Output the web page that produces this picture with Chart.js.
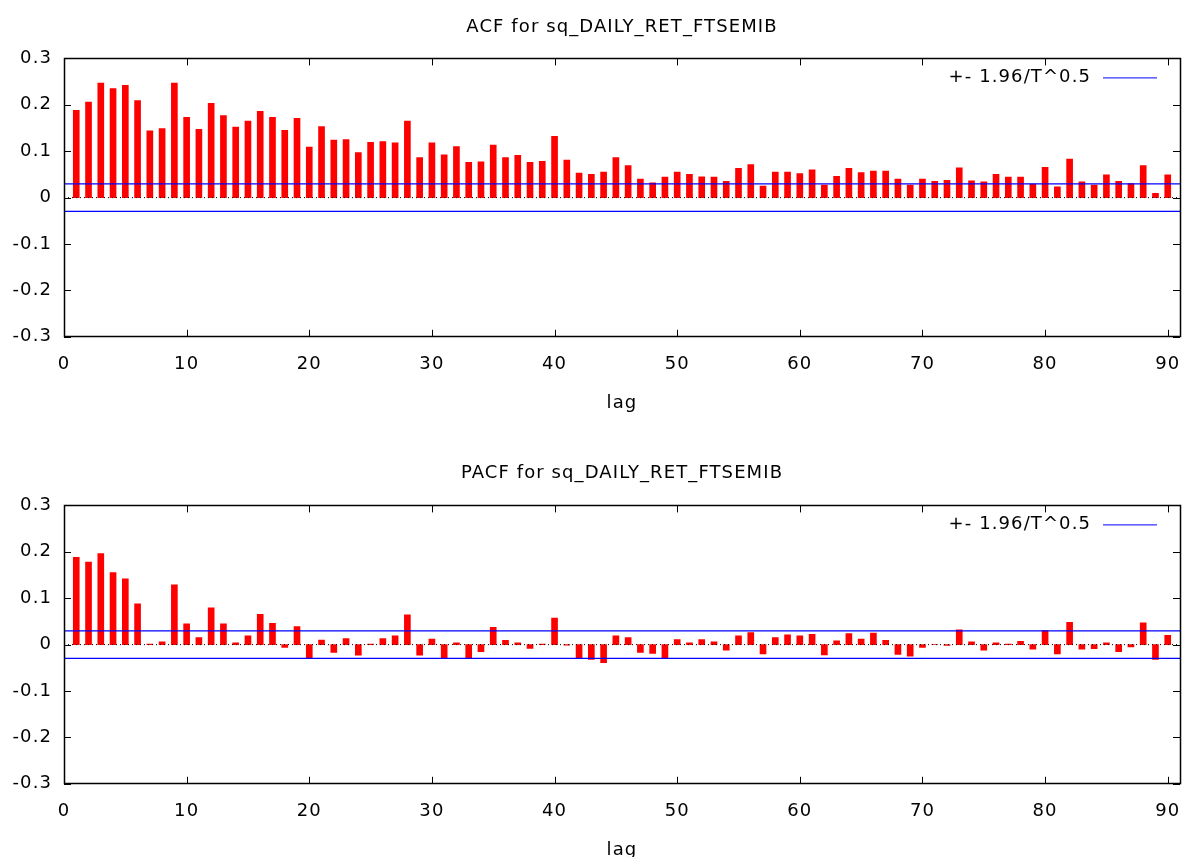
<!DOCTYPE html>
<html lang="en">
<head>
  <meta charset="UTF-8" />
  <title>ACF / PACF — sq_DAILY_RET_FTSEMIB</title>
  <script src="https://cdn.jsdelivr.net/npm/chart.js"></script>
  <style>
    html, body { margin: 0; padding: 0; background: #fff; overflow: hidden; }
    .panel { position: absolute; left: 0; width: 1194px; height: 414px; }
  </style>
</head>
<body>

  <div class="panel" style="top:0"><canvas id="acfChart"></canvas></div>
  <div class="panel" style="top:447px"><canvas id="pacfChart"></canvas></div>

  <script>
    // lags 1..90
    const lags = [
      1, 2, 3, 4, 5, 6, 7, 8, 9, 10, 11, 12, 13, 14, 15, 16, 17, 18, 19, 20,
      21, 22, 23, 24, 25, 26, 27, 28, 29, 30, 31, 32, 33, 34, 35, 36, 37, 38, 39, 40,
      41, 42, 43, 44, 45, 46, 47, 48, 49, 50, 51, 52, 53, 54, 55, 56, 57, 58, 59, 60,
      61, 62, 63, 64, 65, 66, 67, 68, 69, 70, 71, 72, 73, 74, 75, 76, 77, 78, 79, 80,
      81, 82, 83, 84, 85, 86, 87, 88, 89, 90
    ];

    const acfValues = [
      0.188, 0.206, 0.247, 0.235, 0.242, 0.209, 0.144, 0.149, 0.247, 0.173,
      0.147, 0.203, 0.177, 0.152, 0.165, 0.186, 0.173, 0.145, 0.171, 0.109,
      0.153, 0.124, 0.125, 0.097, 0.119, 0.121, 0.118, 0.165, 0.086, 0.118,
      0.092, 0.110, 0.076, 0.077, 0.113, 0.086, 0.091, 0.076, 0.078, 0.132,
      0.081, 0.053, 0.050, 0.055, 0.086, 0.069, 0.040, 0.032, 0.044, 0.055,
      0.050, 0.045, 0.044, 0.035, 0.063, 0.071, 0.025, 0.055, 0.055, 0.052,
      0.060, 0.027, 0.046, 0.063, 0.054, 0.057, 0.057, 0.040, 0.027, 0.040,
      0.035, 0.037, 0.064, 0.036, 0.034, 0.050, 0.044, 0.044, 0.029, 0.065,
      0.023, 0.083, 0.034, 0.027, 0.049, 0.035, 0.030, 0.069, 0.009, 0.049
    ];

    const pacfValues = [
      0.188, 0.178, 0.196, 0.155, 0.142, 0.088, 0.001, 0.006, 0.129, 0.045,
      0.015, 0.079, 0.045, 0.004, 0.019, 0.065, 0.046, -0.006, 0.039, -0.029,
      0.010, -0.017, 0.013, -0.023, 0.001, 0.013, 0.019, 0.064, -0.023, 0.012,
      -0.029, 0.004, -0.029, -0.015, 0.037, 0.009, 0.004, -0.008, 0.001, 0.057,
      -0.001, -0.029, -0.032, -0.039, 0.019, 0.015, -0.017, -0.019, -0.029, 0.011,
      0.004, 0.011, 0.006, -0.012, 0.019, 0.026, -0.020, 0.015, 0.021, 0.019,
      0.022, -0.022, 0.008, 0.024, 0.012, 0.025, 0.009, -0.021, -0.025, -0.006,
      0.000, -0.002, 0.032, 0.006, -0.012, 0.004, 0.001, 0.007, -0.010, 0.030,
      -0.020, 0.048, -0.010, -0.009, 0.004, -0.015, -0.005, 0.047, -0.032, 0.020
    ];

    const confBand = 0.0295;           // +- 1.96/T^0.5
    const xTicks = [0, 10, 20, 30, 40, 50, 60, 70, 80, 90];
    const yTicks = ['-0.3', '-0.2', '-0.1', '0', '0.1', '0.2', '0.3'];
    const xRange = [0, 91];
    const legendText = '+- 1.96/T^0.5';

    const FONT = 'DejaVu Sans, Verdana, sans-serif';

    // gnuplot's font is wider than DejaVu, so open it up a little (draw only)
    const spacingPlugin = {
      id: 'spacing',
      beforeDraw(chart) { chart.ctx.letterSpacing = '1.1px'; }
    };

    // title over the plot, frame, inward tick marks and the key
    const framePlugin = {
      id: 'frame',
      afterDraw(chart, args, opts) {
        const { ctx, chartArea: a, scales } = chart;
        ctx.save();
        ctx.fillStyle = '#000';
        ctx.font = '18px ' + FONT;
        ctx.textAlign = 'center';
        ctx.textBaseline = 'middle';
        ctx.fillText(opts.title, (a.left + a.right) / 2, opts.titleY);

        ctx.strokeStyle = '#000';
        ctx.lineWidth = 1;
        ctx.beginPath();
        xTicks.forEach(v => {
          const px = Math.round(scales.x.getPixelForValue(v)) + 0.5;
          ctx.moveTo(px, a.bottom); ctx.lineTo(px, a.bottom - 7);
          ctx.moveTo(px, a.top); ctx.lineTo(px, a.top + 7);
        });
        yTicks.forEach(t => {
          const py = Math.round(scales.y.getPixelForValue(parseFloat(t))) + 0.5;
          ctx.moveTo(a.left, py); ctx.lineTo(a.left + 7, py);
          ctx.moveTo(a.right, py); ctx.lineTo(a.right - 7, py);
        });
        ctx.stroke();
        ctx.lineWidth = 1.5;
        ctx.strokeRect(Math.round(a.left) + 0.5, Math.round(a.top) + 0.5,
                       Math.round(a.right - a.left), Math.round(a.bottom - a.top));
        // key
        ctx.textAlign = 'right';
        ctx.fillText(legendText, a.right - 89, a.top + 19);
        ctx.strokeStyle = '#0000ff';
        ctx.lineWidth = 1;
        ctx.beginPath();
        ctx.moveTo(a.right - 77, a.top + 19.5);
        ctx.lineTo(a.right - 23, a.top + 19.5);
        ctx.stroke();
        ctx.restore();
      }
    };

    function makeChart(id, title, titleY, values) {
      new Chart(document.getElementById(id), {
        data: {
          datasets: [
            {
              type: 'bar',
              data: lags.map((l, i) => ({ x: l, y: values[i] })),
              backgroundColor: '#ff0000',
              borderWidth: 0,
              barThickness: 6,
              order: 2
            },
            {
              type: 'line',
              data: [{ x: xRange[0], y: 0 }, { x: xRange[1], y: 0 }],
              borderColor: '#000',
              borderWidth: 1,
              borderDash: [1, 3],
              pointRadius: 0,
              order: 1
            },
            {
              type: 'line',
              data: [{ x: xRange[0], y: confBand }, { x: xRange[1], y: confBand }],
              borderColor: '#0000ff',
              borderWidth: 1.3,
              pointRadius: 0,
              order: 0
            },
            {
              type: 'line',
              data: [{ x: xRange[0], y: -confBand }, { x: xRange[1], y: -confBand }],
              borderColor: '#0000ff',
              borderWidth: 1.3,
              pointRadius: 0,
              order: 0
            }
          ]
        },
        options: {
          responsive: false,
          animation: false,
          devicePixelRatio: 1,
          layout: { padding: { left: 0, right: 14, top: 58.4, bottom: 0 } },
          plugins: {
            legend: { display: false },
            tooltip: { enabled: false },
            title: { display: false },
            frame: { title: title, titleY: titleY }
          },
          scales: {
            x: {
              type: 'linear',
              min: xRange[0],
              max: xRange[1],
              offset: false,
              afterBuildTicks: s => { s.ticks = xTicks.map(v => ({ value: v })); },
              afterFit: s => { s.paddingLeft = 0; s.paddingRight = 0; },
              ticks: { color: '#000', font: { family: FONT, size: 18 }, padding: 17, maxRotation: 0 },
              grid: { display: false, drawTicks: false },
              border: { display: false },
              title: {
                display: true,
                text: 'lag',
                color: '#000',
                font: { family: FONT, size: 18 },
                padding: { top: 0, bottom: 0 }
              }
            },
            y: {
              min: -0.3,
              max: 0.3,
              afterBuildTicks: s => { s.ticks = yTicks.map(t => ({ value: parseFloat(t) })); },
              afterFit: s => { s.width = 64; },
              ticks: {
                color: '#000',
                font: { family: FONT, size: 18 },
                padding: 12,
                callback: (v, i) => yTicks[i]
              },
              grid: { display: false, drawTicks: false },
              border: { display: false }
            }
          }
        },
        plugins: [spacingPlugin, framePlugin]
      });
    }

    const acfCanvas = document.getElementById('acfChart');
    const pacfCanvas = document.getElementById('pacfChart');
    [acfCanvas, pacfCanvas].forEach(c => { c.width = 1194; c.height = 414; });

    makeChart('acfChart', 'ACF for sq_DAILY_RET_FTSEMIB', 27, acfValues);
    makeChart('pacfChart', 'PACF for sq_DAILY_RET_FTSEMIB', 26.5, pacfValues);
  </script>

</body>
</html>
